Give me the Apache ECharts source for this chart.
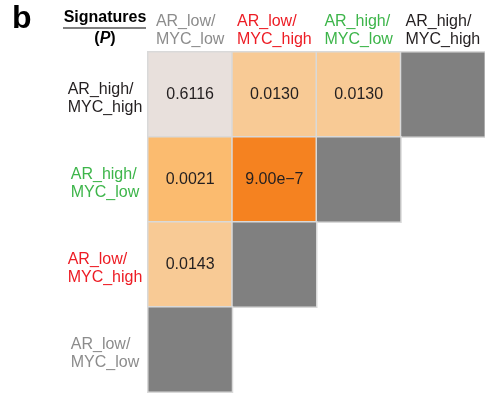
<!DOCTYPE html>
<html>
<head>
<meta charset="utf-8">
<script src="https://cdn.jsdelivr.net/npm/echarts@6/dist/echarts.min.js"></script>
<style>
  html, body { margin: 0; padding: 0; background: #fff; }
  #chart { width: 485px; height: 393px; }
</style>
</head>
<body>
<div id="chart"></div>
<script>
// Signature groups along the columns (left to right) and rows (top to bottom)
const colSignatures = ['AR_low/\nMYC_low', 'AR_low/\nMYC_high', 'AR_high/\nMYC_low', 'AR_high/\nMYC_high'];
const rowSignatures = ['AR_high/\nMYC_high', 'AR_high/\nMYC_low', 'AR_low/\nMYC_high', 'AR_low/\nMYC_low'];

// Text colour of each signature
const signatureColors = {
  'AR_low/\nMYC_low': '#8c8c8c',
  'AR_low/\nMYC_high': '#ed1c24',
  'AR_high/\nMYC_low': '#3db54a',
  'AR_high/\nMYC_high': '#231f20'
};

// Pairwise P values: [column index, row index, P]
const pValues = [
  [0, 0, 0.6116], [1, 0, 0.0130], [2, 0, 0.0130],
  [0, 1, 0.0021], [1, 1, 9.00e-7],
  [0, 2, 0.0143]
];

// Self comparisons (diagonal), drawn in grey
const selfPairs = [[3, 0], [2, 1], [1, 2], [0, 3]];

function formatP(p) {
  if (p < 1e-4) {
    const parts = p.toExponential(2).split('e');
    return parts[0] + 'e' + parts[1].replace('-', '\u2212');
  }
  return p.toFixed(4);
}

// Two-line signature names: lines left-aligned, block centred on its anchor
function labelRich(value) {
  return value.split('\n').map(s => '{l|' + s + '}').join('\n');
}

const chart = echarts.init(document.getElementById('chart'), null, { renderer: 'canvas' });

const fontFamily = 'Liberation Sans, Arial, sans-serif';
const richLine = { l: { align: 'left', fontSize: 16, lineHeight: 18, fontFamily: fontFamily } };

chart.setOption({
  animation: false,
  grid: { left: 148, top: 52, width: 340, height: 340 },
  xAxis: {
    type: 'category',
    position: 'top',
    data: colSignatures,
    axisLine: { show: false },
    axisTick: { show: false },
    splitLine: { show: false },
    axisLabel: {
      margin: 3,
      interval: 0,
      fontFamily: fontFamily,
      fontSize: 16,
      lineHeight: 18,
      align: 'center',
      formatter: labelRich,
      rich: richLine,
      color: (value) => signatureColors[value]
    }
  },
  yAxis: {
    type: 'category',
    inverse: true,
    data: rowSignatures,
    axisLine: { show: false },
    axisTick: { show: false },
    splitLine: { show: false },
    axisLabel: {
      margin: 43,
      interval: 0,
      fontFamily: fontFamily,
      fontSize: 16,
      lineHeight: 18,
      align: 'center',
      padding: [8, 0, 0, 0],
      formatter: labelRich,
      rich: richLine,
      color: (value) => signatureColors[value]
    }
  },
  visualMap: {
    show: false,
    type: 'piecewise',
    seriesIndex: 0,
    dimension: 2,
    pieces: [
      { gt: 0.05, color: '#e8e0dc' },
      { gt: 0.01, lte: 0.05, color: '#f8ca95' },
      { gt: 1e-4, lte: 0.01, color: '#fbbb6f' },
      { lte: 1e-4, color: '#f58220' }
    ]
  },
  series: [
    {
      type: 'heatmap',
      data: pValues,
      itemStyle: { borderColor: '#d9d9d9', borderWidth: 1.5 },
      label: {
        show: true,
        color: '#231f20',
        fontFamily: fontFamily,
        fontSize: 16,
        formatter: (p) => formatP(p.value[2])
      }
    },
    {
      type: 'heatmap',
      data: selfPairs.map(d => [d[0], d[1], 0]),
      itemStyle: { color: '#808080', borderColor: '#d9d9d9', borderWidth: 1.5 },
      label: { show: false }
    }
  ],
  graphic: [
    {
      type: 'text', x: 12, y: 3,
      style: { text: 'b', fontFamily: fontFamily, fontWeight: 'bold', fontSize: 32, fill: '#000' }
    },
    {
      type: 'text', x: 105, y: 10,
      style: { text: 'Signatures', fontFamily: fontFamily, fontWeight: 'bold', fontSize: 16, fill: '#000', align: 'center' }
    },
    {
      type: 'line',
      shape: { x1: 63, y1: 28, x2: 146, y2: 28 },
      style: { stroke: '#000', lineWidth: 1.2 }
    },
    {
      type: 'text', x: 105, y: 31,
      style: {
        text: '{a|(}{b|P}{a|)}',
        align: 'center',
        rich: {
          a: { fontFamily: fontFamily, fontWeight: 'bold', fontSize: 16, fill: '#000' },
          b: { fontFamily: fontFamily, fontWeight: 'bold', fontStyle: 'italic', fontSize: 16, fill: '#000' }
        }
      }
    }
  ]
});
</script>
</body>
</html>
